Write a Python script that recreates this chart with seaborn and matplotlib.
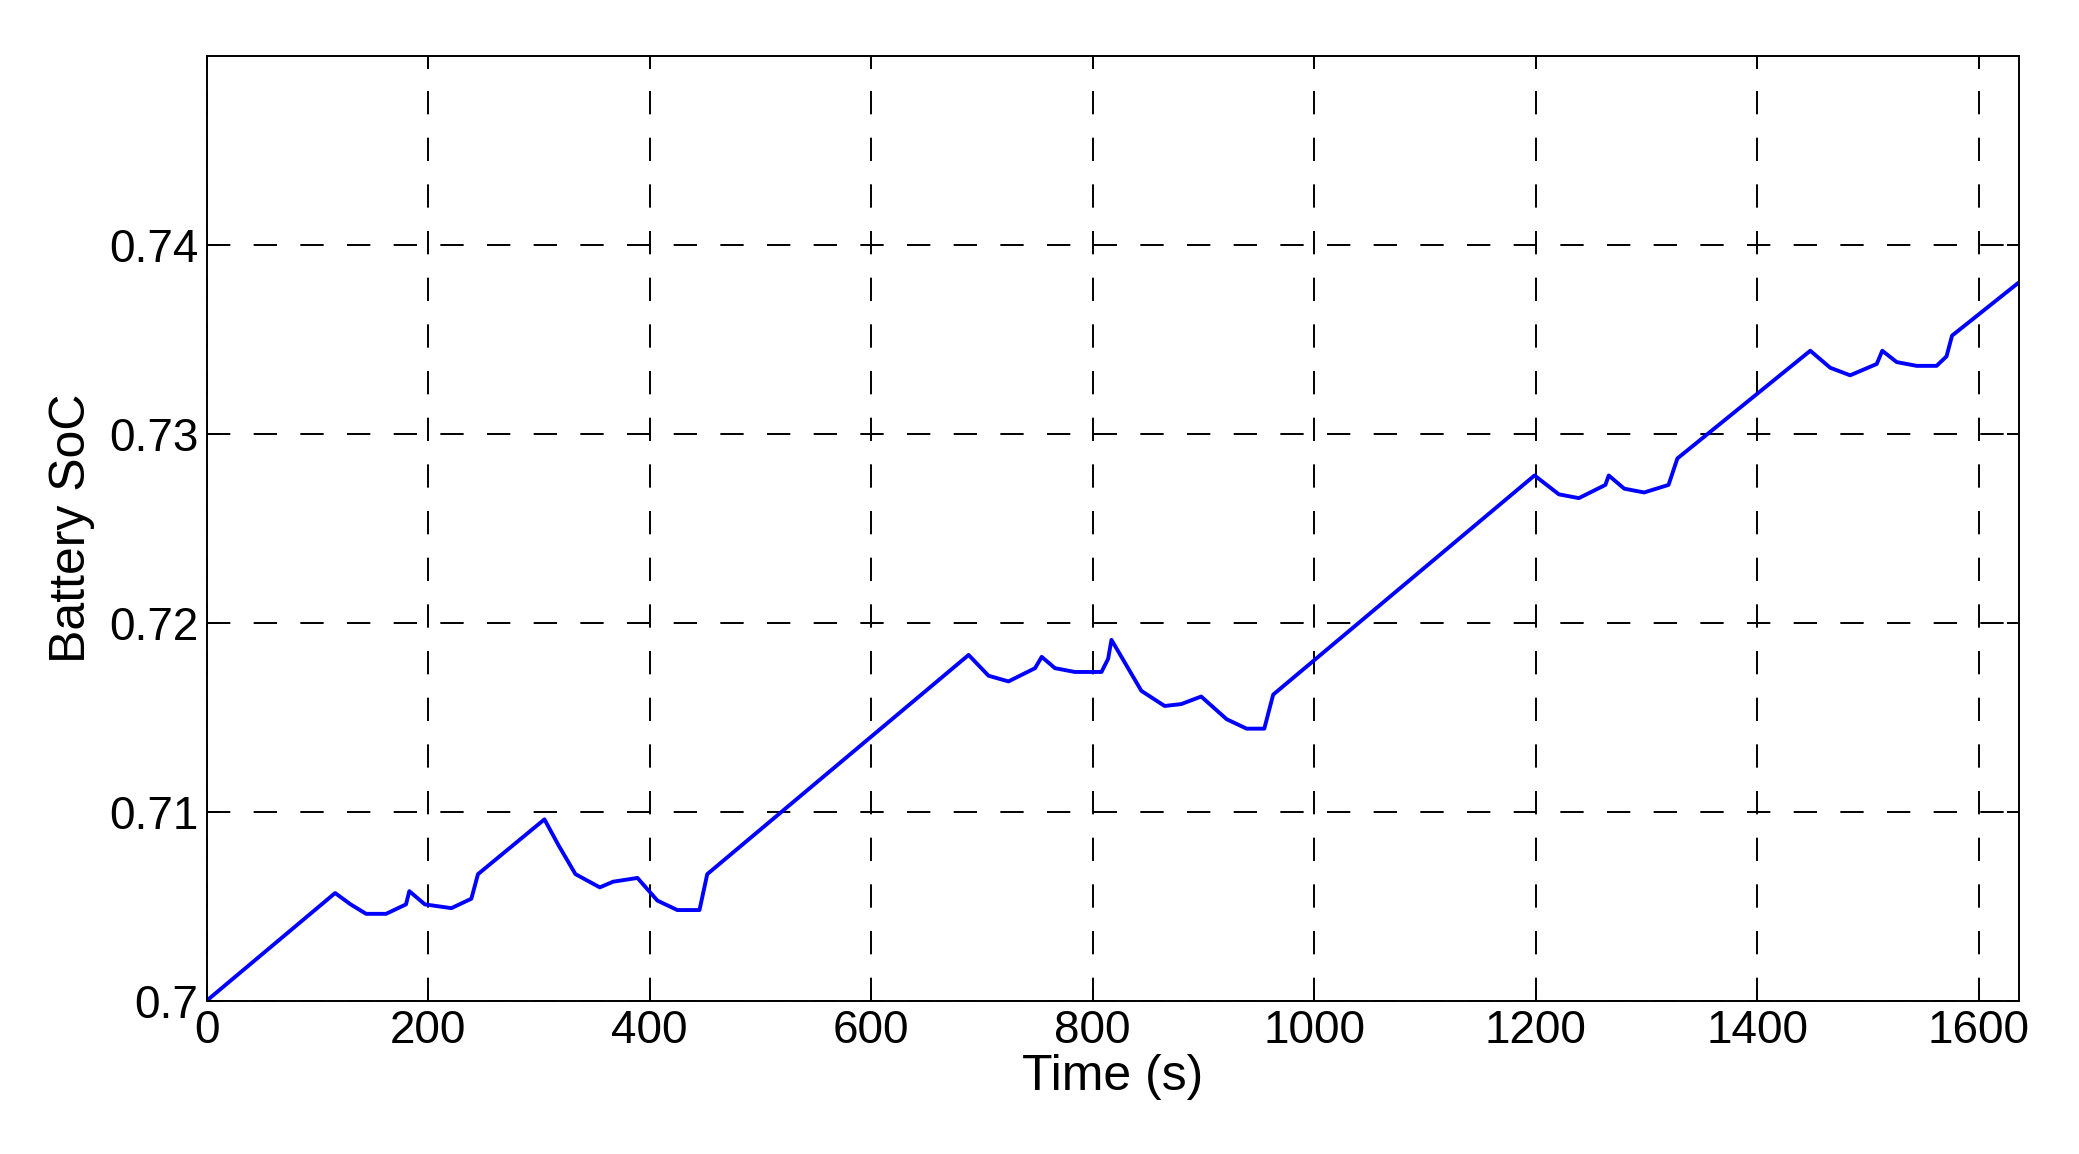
import matplotlib
matplotlib.use('Agg')
import matplotlib.pyplot as plt
import seaborn as sns
import pandas as pd

# battery state of charge over the drive cycle
time_s = [0, 116, 130, 144, 162, 180, 183, 197, 221, 239, 245, 305, 318, 333, 355, 367, 389,
          407, 425, 445, 452, 688, 706, 724, 748, 754, 766, 784, 808, 814, 817,
          832, 844, 865, 880, 898, 921, 939, 955, 963, 1199, 1221, 1239, 1263, 1266,
          1280, 1298, 1320, 1328, 1448, 1466, 1484, 1508, 1513, 1526, 1544, 1562,
          1571, 1576, 1636]
soc = [0.7000, 0.7057, 0.7051, 0.7046, 0.7046, 0.7051, 0.7058, 0.7051, 0.7049, 0.7054, 0.7067,
       0.7096, 0.7082, 0.7067, 0.7060, 0.7063, 0.7065, 0.7053, 0.7048, 0.7048, 0.7067,
       0.7183, 0.7172, 0.7169, 0.7176, 0.7182, 0.7176, 0.7174, 0.7174, 0.7181, 0.7191,
       0.7176, 0.7164, 0.7156, 0.7157, 0.7161, 0.7149, 0.7144, 0.7144, 0.7162,
       0.7278, 0.7268, 0.7266, 0.7273, 0.7278, 0.7271, 0.7269, 0.7273, 0.7287,
       0.7344, 0.7335, 0.7331, 0.7337, 0.7344, 0.7338, 0.7336, 0.7336, 0.7341,
       0.7352, 0.7380]

x_ticks = [0, 200, 400, 600, 800, 1000, 1200, 1400, 1600]
y_ticks = [0.70, 0.71, 0.72, 0.73, 0.74]
y_ticklabels = ['0.7', '0.71', '0.72', '0.73', '0.74']

df = pd.DataFrame({'Time': time_s, 'SoC': soc})

sns.set_style('white')
plt.rcParams['font.family'] = ['Liberation Sans', 'DejaVu Sans']

fig = plt.figure(figsize=(20.79, 11.54), dpi=100)
ax = fig.add_axes([0.0994, 0.1328, 0.8715, 0.8187])

sns.lineplot(data=df, x='Time', y='SoC', color='#0000ff', linewidth=2.8, ax=ax)

ax.set_xlim(0, 1636)
ax.set_ylim(0.70, 0.75)
ax.set_xticks(x_ticks)
ax.set_yticks(y_ticks)
ax.set_yticklabels(y_ticklabels)
ax.grid(True, color='black', linewidth=1.4, linestyle=(0, (12, 12)))
ax.set_axisbelow(True)

for sp in ax.spines.values():
    sp.set_visible(True)
    sp.set_color('black')
    sp.set_linewidth(1.4)

ax.tick_params(axis='both', direction='in', length=9, width=1.4, labelsize=33,
               colors='black', pad=6, top=True, right=True, bottom=True, left=True)
ax.set_xlabel('Time (s)', fontsize=36, labelpad=1, color='black')
ax.set_ylabel('Battery SoC', fontsize=36, labelpad=10, color='black')

fig.savefig('out.png', dpi=100, facecolor='white')
